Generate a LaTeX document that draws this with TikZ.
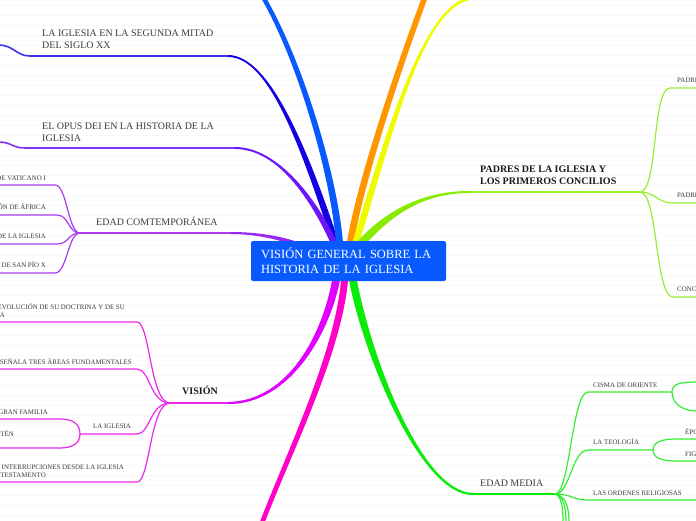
\documentclass[tikz,border=0pt]{standalone}
\usepackage{fontspec}
\setmainfont{Liberation Serif}
\usetikzlibrary{calc}
\definecolor{cblue}{RGB}{8,90,255}
\definecolor{cdblue}{RGB}{20,0,225}
\definecolor{cdblueL}{RGB}{60,50,235}
\definecolor{copus}{RGB}{110,20,250}
\definecolor{copusL}{RGB}{125,50,245}
\definecolor{ccont}{RGB}{150,40,240}
\definecolor{ccontL}{RGB}{170,60,240}
\definecolor{cvis}{RGB}{225,0,255}
\definecolor{cvisL}{RGB}{235,40,235}
\definecolor{cpink}{RGB}{255,0,200}
\definecolor{cgreen}{RGB}{10,235,10}
\definecolor{cgreenL}{RGB}{50,238,50}
\definecolor{cpad}{RGB}{136,235,0}
\definecolor{cpadL}{RGB}{150,238,50}
\definecolor{cyel}{RGB}{240,250,0}
\definecolor{corange}{RGB}{255,150,0}
\definecolor{ctext}{RGB}{60,60,60}
\definecolor{bgline}{RGB}{248,248,248}
\tikzset{
  midtext/.style={font=\fontsize{10}{12}\selectfont, text=ctext, inner sep=0pt, align=left, anchor=base west},
  boldtext/.style={font=\bfseries\fontsize{10}{11.7}\selectfont, text=black!90, inner sep=0pt, align=left, anchor=base west},
  smalltext/.style={font=\fontsize{6.9}{8}\selectfont, text=ctext, inner sep=0pt, anchor=base west},
  smallr/.style={smalltext, anchor=base east},
  subline/.style={line width=1.2pt}
}
\begin{document}
\begin{tikzpicture}[x=1pt,y=-1pt]
\useasboundingbox (0,0) rectangle (696,520);
\fill[white] (0,0) rectangle (696,520);
\foreach \yy in {5,15,...,515} \draw[bgline,line width=0.7pt] (0,\yy) -- (696,\yy);
\begin{scope}
\clip (0,0) rectangle (696,520);

% ---------- SEGUNDA MITAD ----------
\coordinate (s2a) at (228,56); \coordinate (s2b) at (30,56); \coordinate (s2o) at (-2,45);
\draw[cdblueL, line width=1.6pt] (s2a) -- (s2b) .. controls (16,56) and (14,45) .. (s2o);
\node[midtext] (t2) at (42,48) {LA IGLESIA EN LA SEGUNDA MITAD\\DEL SIGLO XX};

% ---------- OPUS DEI ----------
\coordinate (s3a) at (235,148); \coordinate (s3b) at (25,148); \coordinate (s3o) at (-2,142);
\draw[copusL, line width=1.6pt] (s3a) -- (s3b) .. controls (12,148) and (12,142) .. (s3o);
\node[midtext] (t3) at (42,141.5) {EL OPUS DEI EN LA HISTORIA DE LA\\IGLESIA};

% ---------- EDAD CONTEMPORANEA ----------
\coordinate (s4a) at (230,233); \coordinate (h4) at (80,233);
\draw[ccontL, line width=1.6pt] (s4a) -- (h4);
\node[midtext] (t4) at (96,225.7) {EDAD COMTEMPORÁNEA};
\coordinate (k41) at (55,185); \coordinate (k41o) at (-2,185);
\coordinate (k42) at (57,215); \coordinate (k42o) at (-2,215);
\coordinate (k43) at (57,244); \coordinate (k43o) at (-2,244);
\coordinate (k44) at (55,273); \coordinate (k44o) at (-2,273);
\draw[ccontL, subline] (h4) .. controls (68,233) and (67,185) .. (k41) -- (k41o);
\draw[ccontL, subline] (h4) .. controls (68,233) and (69,215) .. (k42) -- (k42o);
\draw[ccontL, subline] (h4) .. controls (68,233) and (69,244) .. (k43) -- (k43o);
\draw[ccontL, subline] (h4) .. controls (68,233) and (67,273) .. (k44) -- (k44o);
\node[smallr] (t41) at (46,180) {DE VATICANO I};
\node[smallr] (t42) at (46,209) {ÓN DE ÁFRICA};
\node[smallr] (t43) at (46,238) {DE LA IGLESIA};
\node[smallr] (t44) at (46,267) {DE SAN PÍO X};

% ---------- VISION ----------
\coordinate (s5a) at (228,403); \coordinate (h5) at (170,403);
\draw[cvisL, line width=1.6pt] (s5a) -- (h5);
\node[boldtext] (t5) at (182,394) {VISIÓN};
\coordinate (k51) at (137,322); \coordinate (k51o) at (-2,322);
\coordinate (k52) at (137,369); \coordinate (k52o) at (-2,369);
\coordinate (k53) at (137,434); \coordinate (h53) at (80,434);
\coordinate (k54) at (137,482); \coordinate (k54o) at (-2,482);
\draw[cvisL, subline] (h5) .. controls (150,403) and (150,322) .. (k51) -- (k51o);
\draw[cvisL, subline] (h5) .. controls (150,403) and (150,369) .. (k52) -- (k52o);
\draw[cvisL, subline] (h5) .. controls (150,403) and (150,434) .. (k53) -- (h53);
\draw[cvisL, subline] (h5) .. controls (150,403) and (150,482) .. (k54) -- (k54o);
\coordinate (k531) at (60,419); \coordinate (k531o) at (-2,419);
\coordinate (k532) at (60,448); \coordinate (k532o) at (-2,448);
\draw[cvisL, subline] (h53) .. controls (80,424) and (73,419) .. (k531) -- (k531o);
\draw[cvisL, subline] (h53) .. controls (80,443) and (73,448) .. (k532) -- (k532o);
\node[smallr] (t51a) at (125,309.5) {EVOLUCIÓN DE SU DOCTRINA Y DE SU};
\node[smallr] (t51b) at (5,317.5) {A};
\node[smallr] (t52) at (132,364) {SEÑALA TRES ÁREAS FUNDAMENTALES};
\node[smalltext] (t53) at (93,428) {LA IGLESIA};
\node[smallr] (t531) at (48,414) {GRAN FAMILIA};
\node[smallr] (t532) at (14,436) {STÉN};
\node[smallr] (t54a) at (124,469) {INTERRUPCIONES DESDE LA IGLESIA};
\node[smallr] (t54b) at (46,477) {TESTAMENTO};

% ---------- EDAD MEDIA ----------
\coordinate (s7a) at (473,494); \coordinate (h7) at (555,494);
\draw[cgreen, line width=2pt] (s7a) -- (h7);
\node[midtext] (t7) at (480,486.7) {EDAD MEDIA};
\coordinate (k71) at (588,392); \coordinate (h71) at (672,392);
\coordinate (k72) at (588,450); \coordinate (h72) at (653,450);
\coordinate (k73) at (588,500); \coordinate (k73o) at (698,500);
\draw[cgreenL, subline] (h7) .. controls (570,494) and (572,392) .. (k71) -- (h71);
\draw[cgreenL, subline] (h71) .. controls (672,384) and (679,382) .. (698,382);
\draw[cgreenL, subline] (h71) .. controls (672,401) and (679,411) .. (698,411);
\draw[cgreenL, subline] (h7) .. controls (570,494) and (572,450) .. (k72) -- (h72);
\draw[cgreenL, subline] (h72) .. controls (653,442) and (662,439) .. (676,439) -- (698,439);
\draw[cgreenL, subline] (h72) .. controls (653,458) and (662,461) .. (676,461) -- (698,461);
\draw[cgreenL, subline] (h7) .. controls (572,494) and (572,500) .. (k73) -- (k73o);
\coordinate (d71) at (563,523); \coordinate (d72) at (566,523); \coordinate (d73) at (569,523);
\draw[cgreenL, subline] (h7) .. controls (561,496) and (563,505) .. (d71);
\draw[cgreenL, subline] (h7) .. controls (563,496) and (566,505) .. (d72);
\draw[cgreenL, subline] (h7) .. controls (565,496) and (569,505) .. (d73);
\node[smalltext] (t71) at (593,387) {CISMA DE ORIENTE};
\node[smalltext] (t72) at (593,444) {LA TEOLOGÍA};
\node[smalltext] (t721) at (685,434) {ÉPO};
\node[smalltext] (t722) at (685,456) {FIG};
\node[smalltext] (t73) at (593,495) {LAS ORDENES RELIGIOSAS};

% ---------- PADRES ----------
\coordinate (s8a) at (470,192); \coordinate (h8) at (640,192);
\draw[cpadL, line width=1.8pt] (s8a) -- (h8);
\node[boldtext] (t8) at (480,184) {PADRES DE LA IGLESIA Y\\LOS PRIMEROS CONCILIOS};
\coordinate (k81) at (670,88); \coordinate (k82) at (673,203); \coordinate (k83) at (673,297);
\draw[cpadL, subline] (h8) .. controls (658,192) and (652,88) .. (k81) -- (698,88);
\draw[cpadL, subline] (h8) .. controls (656,192) and (657,203) .. (k82) -- (698,203);
\draw[cpadL, subline] (h8) .. controls (658,192) and (655,297) .. (k83) -- (698,297);
\node[smalltext] (t81) at (677,82) {PADRE};
\node[smalltext] (t82) at (677,197) {PADRE};
\node[smalltext] (t83) at (677,291) {CONC};

% ---------- thick branches ----------
% dark blue
\coordinate (c2) at (338,250);
\fill[cdblue] ($(c2)+(3.5,0)$) .. controls (308.5,150) and (270,55) .. ($(s2a)+(0,-1)$) -- ($(s2a)+(0,1)$) .. controls (270,57) and (301.5,150) .. ($(c2)+(-3.5,0)$) -- cycle;
% opus
\coordinate (c3) at (338,252);
\fill[copus] ($(c3)+(3.5,0)$) .. controls (321.5,205) and (280,147) .. ($(s3a)+(0,-1)$) -- ($(s3a)+(0,1)$) .. controls (280,149) and (314.5,205) .. ($(c3)+(-3.5,0)$) -- cycle;
% contemporanea
\coordinate (c4) at (320,255);
\fill[ccont] ($(c4)+(0,-3)$) .. controls (295,237.5) and (262,232) .. ($(s4a)+(0,-1)$) -- ($(s4a)+(0,1)$) .. controls (262,234) and (295,242.5) .. ($(c4)+(0,3)$) -- cycle;
% blue to top
\coordinate (c1) at (340,250); \coordinate (e1) at (263,-3);
\fill[cblue] ($(c1)+(-3.5,0)$) .. controls (332.5,180) and (297.5,60) .. ($(e1)+(-2.5,0)$) -- ($(e1)+(2.5,0)$) .. controls (302.5,60) and (339.5,180) .. ($(c1)+(3.5,0)$) -- cycle;
% orange
\coordinate (c10) at (350,245); \coordinate (e10) at (425,-3);
\fill[corange] ($(c10)+(-3.5,0)$) .. controls (356.5,180) and (402,50) .. ($(e10)+(-3,0)$) -- ($(e10)+(3,0)$) .. controls (408,50) and (363.5,180) .. ($(c10)+(3.5,0)$) -- cycle;
% yellow
\coordinate (c9) at (355,245); \coordinate (e9) at (468,-1);
\fill[cyel] ($(c9)+(3.5,0)$) .. controls (388.5,150) and (420,12) .. ($(e9)+(0,1.5)$) -- ($(e9)+(0,-1.5)$) .. controls (420,8) and (381.5,150) .. ($(c9)+(-3.5,0)$) -- cycle;
% padres
\coordinate (c8) at (355,250);
\fill[cpad] ($(c8)+(3,2.6)$) .. controls (388,217.6) and (420,193) .. ($(s8a)+(0,1)$) -- ($(s8a)+(0,-1)$) .. controls (420,191) and (382,212.4) .. ($(c8)+(-3,-2.6)$) -- cycle;
% vision
\coordinate (c5) at (338,268);
\fill[cvis] ($(c5)+(-4,0)$) .. controls (326,330) and (290,401) .. ($(s5a)+(0,-1)$) -- ($(s5a)+(0,1)$) .. controls (290,405) and (334,330) .. ($(c5)+(4,0)$) -- cycle;
% pink
\coordinate (c6) at (345,275); \coordinate (e6) at (262,523);
\fill[cpink] ($(c6)+(-3.5,0)$) .. controls (336.5,350) and (287.5,450) .. ($(e6)+(-2.5,0)$) -- ($(e6)+(2.5,0)$) .. controls (292.5,450) and (343.5,350) .. ($(c6)+(3.5,0)$) -- cycle;
% green
\coordinate (c7) at (352,275);
\fill[cgreen] ($(c7)+(-4,0)$) .. controls (361,350) and (420,496) .. ($(s7a)+(0,1)$) -- ($(s7a)+(0,-1)$) .. controls (420,492) and (369,350) .. ($(c7)+(4,0)$) -- cycle;

% ---------- root ----------
\node[fill=cblue, rounded corners=2pt, minimum width=195pt, minimum height=40pt, text width=175pt, align=left, inner sep=0pt, text=white, font=\fontsize{12.5}{15}\selectfont] (root) at (348.5,261) {VISIÓN GENERAL SOBRE LA\\HISTORIA DE LA IGLESIA};
\end{scope}
\end{tikzpicture}
\end{document}
